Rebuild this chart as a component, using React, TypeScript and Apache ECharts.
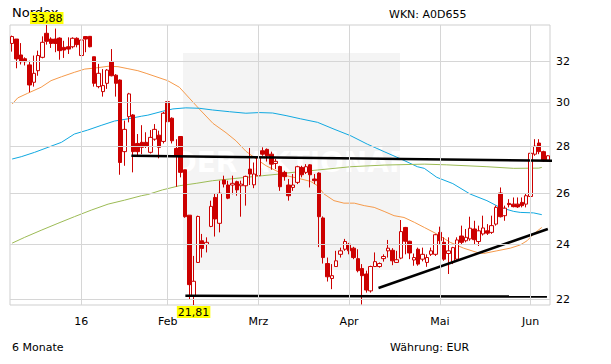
import React, { useEffect, useRef } from "react";
import * as echarts from "echarts";

const FONT = '"DejaVu Sans", Verdana, sans-serif';

// trading calendar (Xetra), 7 Dec 2015 – 7 Jun 2016
const startDate = "2015-12-07";
const endDate = "2016-06-07";
const holidays = ["2015-12-24", "2015-12-25", "2015-12-31", "2016-01-01", "2016-03-25", "2016-03-28", "2016-05-16"];
function buildDays(): string[] {
  const out: string[] = [];
  const d = new Date(startDate + "T12:00:00Z");
  const end = new Date(endDate + "T12:00:00Z");
  while (d <= end) {
    const s = d.toISOString().slice(0, 10);
    const wd = d.getUTCDay();
    if (wd !== 0 && wd !== 6 && !holidays.includes(s)) out.push(s);
    d.setUTCDate(d.getUTCDate() + 1);
  }
  return out;
}
const tradingDays = buildDays();

const monthLabels: Record<string, string> = {
  "2016-01": "16",
  "2016-02": "Feb",
  "2016-03": "Mrz",
  "2016-04": "Apr",
  "2016-05": "Mai",
  "2016-06": "Jun",
};

const yTicks = [22, 24, 26, 28, 30, 32];

// [open, close, low, high]
const candles: number[][] = [
  [32.91, 33.27, 32.49, 33.32], [33.14, 32.12, 31.65, 33.14], [32.32, 31.98, 31.84, 32.93], [32.13, 31.98, 31.79, 32.2],
  [31.82, 30.83, 30.48, 32.03], [30.96, 31.4, 30.75, 32.29], [31.53, 32.29, 31.28, 32.54], [32.2, 32.97, 32.15, 33.28],
  [33.44, 33.02, 32.85, 33.88], [33.14, 32.91, 32.68, 33.23], [33.14, 32.91, 32.46, 33.69], [33.19, 32.54, 32.08, 33.23],
  [32.71, 32.57, 32.17, 33.05], [32.74, 32.62, 32.37, 33.23], [32.74, 33.18, 32.66, 33.23], [33.18, 32.85, 32.71, 33.23],
  [32.29, 33.09, 31.48, 33.71], [33.27, 33.14, 32.46, 33.28], [33.28, 32.74, 32.71, 33.28], [32.23, 30.91, 30.75, 32.23],
  [30.75, 31.4, 30.67, 31.87], [30.51, 30.8, 30.27, 31.61], [30.91, 31.56, 30.64, 31.61], [31.98, 31.28, 31.25, 32.62],
  [31.31, 30.91, 30.27, 31.36], [31.07, 27.29, 26.77, 31.1], [27.76, 28.75, 27.15, 29.15], [29.33, 30.4, 29.07, 30.45],
  [29.41, 27.76, 26.87, 29.45], [28.12, 27.76, 27.58, 28.54], [28.17, 27.95, 27.65, 28.94], [28.17, 27.99, 27.92, 28.62],
  [27.73, 28.39, 27.68, 28.72], [28.31, 28.75, 28.24, 28.99], [28.49, 27.95, 27.47, 28.69], [28.21, 29.49, 28.12, 29.55],
  [30.03, 29.1, 29.02, 30.11], [29.26, 28.24, 28.12, 29.3], [27.9, 27.58, 26.27, 28.31], [28.43, 26.87, 26.66, 28.45],
  [26.98, 25.06, 25.02, 26.98], [25.12, 22.52, 22.01, 25.12], [22.13, 22.64, 21.81, 23.56], [23.32, 25.07, 23.3, 25.1],
  [24.13, 23.84, 23.5, 24.39], [23.99, 24.07, 23.69, 24.26], [24.68, 25.47, 24.65, 25.7], [25.83, 24.97, 24.29, 26.0],
  [24.8, 26.0, 24.45, 26.52], [26.55, 26.38, 26.24, 26.73], [26.34, 25.8, 25.76, 26.52], [26.34, 26.41, 25.96, 26.73],
  [26.48, 26.14, 25.9, 26.52], [26.31, 26.38, 25.06, 26.52], [26.31, 26.7, 25.5, 26.73], [27.01, 26.8, 26.34, 27.92],
  [26.35, 26.8, 26.21, 27.29], [26.73, 27.51, 26.7, 27.9], [27.8, 27.65, 27.58, 27.95], [27.86, 27.58, 27.33, 27.9],
  [27.65, 27.22, 26.98, 27.76], [27.25, 27.34, 27.01, 27.44], [27.12, 26.27, 26.1, 27.15], [26.87, 26.69, 26.52, 26.94],
  [26.34, 25.9, 25.7, 26.59], [26.24, 26.34, 26.1, 26.8], [26.45, 27.11, 26.38, 27.15], [27.08, 26.77, 26.66, 27.15],
  [26.87, 27.11, 26.8, 27.22], [27.19, 26.77, 26.24, 27.22], [26.59, 26.52, 26.38, 26.8], [26.84, 25.06, 23.89, 26.87],
  [25.01, 23.5, 23.28, 25.07], [23.28, 22.8, 22.63, 23.5], [22.74, 22.84, 22.36, 23.26], [23.17, 23.38, 23.16, 23.75],
  [23.62, 23.75, 23.5, 23.87], [23.81, 24.1, 23.75, 24.2], [24.0, 23.75, 23.62, 24.05], [23.85, 23.5, 23.44, 23.9],
  [23.46, 23.02, 22.96, 23.81], [23.1, 22.84, 21.83, 23.26], [22.9, 22.33, 22.24, 23.02], [22.3, 23.17, 22.24, 23.2],
  [23.17, 23.35, 23.16, 23.69], [23.17, 23.28, 23.13, 23.32], [23.46, 23.54, 23.35, 23.62], [23.75, 23.85, 23.5, 24.16],
  [23.77, 23.38, 23.22, 23.85], [23.32, 23.42, 23.3, 23.75], [23.48, 24.48, 23.44, 24.93], [24.64, 24.11, 23.62, 24.66],
  [24.11, 23.67, 23.44, 24.13], [23.41, 23.5, 23.2, 23.65], [23.81, 23.26, 23.2, 23.87], [23.44, 23.62, 23.36, 23.87],
  [23.32, 23.5, 23.16, 23.62], [23.62, 23.75, 23.56, 23.87], [23.62, 24.36, 23.56, 24.39], [24.45, 24.13, 24.0, 24.67],
  [24.07, 23.44, 23.38, 24.26], [23.65, 23.75, 22.9, 24.26], [23.35, 23.87, 23.26, 23.9], [23.44, 24.16, 23.4, 24.26],
  [24.31, 24.07, 24.0, 24.71], [24.13, 24.26, 24.07, 24.58], [24.2, 24.61, 24.13, 25.06], [24.58, 24.17, 24.0, 24.9],
  [24.1, 24.51, 23.93, 24.71], [24.39, 24.62, 24.33, 25.1], [24.51, 24.42, 24.35, 24.77], [24.45, 24.71, 24.39, 25.1],
  [24.77, 25.43, 24.71, 25.5], [26.01, 25.06, 25.03, 26.24], [25.1, 25.4, 24.9, 25.5], [25.59, 25.54, 25.43, 25.76],
  [25.56, 25.46, 25.43, 25.83], [25.56, 25.45, 25.41, 25.83], [25.63, 25.5, 25.43, 25.83], [25.56, 25.9, 25.43, 25.97],
  [25.87, 27.69, 25.83, 27.73], [27.65, 28.0, 27.58, 28.31], [28.14, 27.76, 27.65, 28.31], [27.76, 27.36, 27.32, 27.8],
  [27.39, 27.58, 27.33, 27.61],
];

// moving averages: [trading-day index, value]
const maOrange: number[][] = [
  [0, 29.92], [1.3, 30.21], [3.6, 30.43], [6.7, 30.72], [9.0, 31.04], [11.4, 31.23], [14.4, 31.45], [16.8, 31.61],
  [19.1, 31.66], [22.2, 31.75], [24.5, 31.73], [26.8, 31.63], [29.1, 31.53], [31.0, 31.4], [36.0, 31.04], [38.7, 30.72],
  [41.0, 30.2], [43.3, 29.69], [46.5, 29.02], [49.5, 28.6], [51.8, 28.24], [54.1, 27.78], [56.5, 27.44], [58.8, 27.15],
  [61.1, 26.94], [63.4, 26.73], [66.0, 26.63], [69.1, 26.49], [70.7, 26.31], [72.2, 25.97], [74.5, 25.7], [76.8, 25.6],
  [79.2, 25.6], [81.5, 25.5], [83.8, 25.43], [86.1, 25.27], [88.4, 25.1], [90.7, 25.03], [93.1, 24.84], [95.4, 24.64],
  [98.3, 24.39], [101.4, 24.07], [104.5, 23.85], [107.6, 23.69], [109.1, 23.65], [112.2, 23.75], [115.3, 23.85],
  [117.6, 23.97], [119.2, 24.13], [120.7, 24.39], [122.6, 24.64],
];
const maBlue: number[][] = [
  [0, 27.44], [2.1, 27.54], [5.2, 27.73], [8.3, 27.95], [11.4, 28.17], [14.4, 28.54], [17.5, 28.72], [20.6, 28.93],
  [23.7, 29.13], [26.8, 29.23], [29.9, 29.35], [31.4, 29.4], [34.8, 29.58], [37.2, 29.69], [40.2, 29.74], [43.3, 29.72],
  [46.4, 29.64], [50.3, 29.56], [54.1, 29.49], [57.2, 29.52], [60.3, 29.5], [63.4, 29.38], [66.8, 29.23], [70.7, 29.07],
  [74.5, 28.76], [78.4, 28.46], [82.2, 28.09], [86.1, 27.76], [90.0, 27.44], [93.8, 27.11], [95.4, 27.04], [98.3, 26.66],
  [102.0, 26.4], [106.0, 25.97], [109.9, 25.7], [112.9, 25.43], [116.1, 25.27], [117.6, 25.23], [120.7, 25.21],
  [122.6, 25.14],
];
const maGreen: number[][] = [
  [0, 24.04], [2.9, 24.26], [6.7, 24.53], [10.6, 24.8], [14.4, 25.06], [18.3, 25.32], [22.2, 25.56], [26.0, 25.72],
  [29.9, 25.9], [31.4, 25.95], [34.8, 26.14], [38.7, 26.31], [42.6, 26.41], [46.4, 26.52], [50.3, 26.59], [54.1, 26.66],
  [58.0, 26.73], [61.9, 26.8], [63.4, 26.84], [70.7, 26.97], [78.4, 27.11], [86.1, 27.18], [95.4, 27.22], [100.6, 27.19],
  [109.9, 27.11], [116.1, 27.04], [121.9, 27.05], [122.6, 27.08],
];

// drawn trend lines: [trading-day index, value]
const resistanceLine: number[][] = [[27.6, 27.58], [125.7, 27.36]];
const supportLine: number[][] = [[40.1, 22.13], [123.8, 22.1]];
const risingLine: number[][] = [[84.8, 22.4], [124.0, 24.58]];

const fmt = (v: number) => v.toFixed(2).replace(".", ",");

export default function App() {
  const ref = useRef<HTMLDivElement>(null);
  useEffect(() => {
    if (!ref.current) return;
    const chart = echarts.init(ref.current, undefined, { renderer: "svg" });

    const labelIdx = new Map<number, string>();
    tradingDays.forEach((d, i) => {
      const key = d.slice(0, 7);
      if (monthLabels[key] && !Array.from(labelIdx.values()).includes(monthLabels[key])) {
        labelIdx.set(i, monthLabels[key]);
      }
    });
    const monthIdx = Array.from(labelIdx.keys());

    let hiIdx = 0, loIdx = 0;
    candles.forEach((c, i) => {
      if (c[3] > candles[hiIdx][3]) hiIdx = i;
      if (c[2] < candles[loIdx][2]) loIdx = i;
    });
    const hiVal = candles[hiIdx][3];
    const loVal = candles[loIdx][2];
    const n = tradingDays.length;

    const markLabel = {
      show: true,
      backgroundColor: "#ffff00",
      color: "#000",
      fontSize: 11,
      fontFamily: FONT,
      padding: [1, 1, 0, 1],
      distance: 1,
    };

    chart.setOption({
      animation: false,
      backgroundColor: "#ffffff",
      grid: { left: 10, right: 61, top: 25, bottom: 59, show: true, borderColor: "#cfcfcf", borderWidth: 1 },
      xAxis: [
        {
          type: "category",
          data: tradingDays,
          boundaryGap: true,
          axisLine: { show: false },
          axisTick: { show: false },
          splitLine: { show: false },
          axisLabel: {
            interval: (i: number) => labelIdx.has(i),
            formatter: (_v: string, i: number) => labelIdx.get(i) || "",
            color: "#000",
            fontSize: 11,
            fontFamily: FONT,
            margin: 11,
          },
        },
        { type: "value", min: -0.5, max: n - 0.5, show: false },
      ],
      yAxis: {
        type: "log",
        logBase: 10,
        min: loVal,
        max: hiVal,
        position: "right",
        axisLine: { show: false },
        axisTick: { show: false },
        axisLabel: { show: false },
        splitLine: { show: false },
      },
      graphic: [
        { type: "rect", z: 0, shape: { x: 183, y: 53, width: 217, height: 217 }, style: { fill: "#f4f4f4" }, silent: true },
        {
          type: "text", z: 0, x: 292, y: 162, silent: true,
          style: { text: "DER AKTIONÄR", fill: "#ffffff", font: 'bold 28px "DejaVu Sans"', textAlign: "center", textVerticalAlign: "middle", align: "center", verticalAlign: "middle" },
        },
        { type: "text", z: 0, x: 12, y: 12, style: { text: "Nordex", fill: "#000", font: '13px "DejaVu Sans"', textVerticalAlign: "middle", verticalAlign: "middle" } },
        { type: "text", z: 0, x: 389, y: 14, style: { text: "WKN: A0D655", fill: "#000", font: '11px "DejaVu Sans"', textVerticalAlign: "middle", verticalAlign: "middle" } },
        { type: "text", z: 0, x: 12, y: 347, style: { text: "6 Monate", fill: "#000", font: '11px "DejaVu Sans"', textVerticalAlign: "middle", verticalAlign: "middle" } },
        { type: "text", z: 0, x: 390, y: 347, style: { text: "Währung: EUR", fill: "#000", font: '11px "DejaVu Sans"', textVerticalAlign: "middle", verticalAlign: "middle" } },
      ],
      series: [
        {
          type: "line",
          xAxisIndex: 0,
          yAxisIndex: 0,
          data: [],
          z: 1,
          silent: true,
          markLine: {
            silent: true,
            symbol: ["none", "none"],
            lineStyle: { color: "#d6d6d6", width: 1, type: "solid" },
            label: { show: false },
            data: [
              ...yTicks.map((v) => ({
                yAxis: v,
                label: { show: true, position: "end", formatter: String(v), color: "#000", fontSize: 11, fontFamily: FONT, distance: 6 },
              })),
              ...monthIdx.map((i) => ({ xAxis: tradingDays[i] })),
            ],
          },
        },
        { type: "line", xAxisIndex: 1, data: maOrange, symbol: "none", z: 2, lineStyle: { color: "#f59a4b", width: 1 } },
        { type: "line", xAxisIndex: 1, data: maBlue, symbol: "none", z: 2, lineStyle: { color: "#10a8e0", width: 1 } },
        { type: "line", xAxisIndex: 1, data: maGreen, symbol: "none", z: 2, lineStyle: { color: "#9cbb55", width: 1 } },
        {
          type: "candlestick",
          xAxisIndex: 0,
          yAxisIndex: 0,
          data: candles,
          barWidth: 4,
          z: 3,
          itemStyle: { color: "#ffffff", color0: "#cc0000", borderColor: "#cc0000", borderColor0: "#cc0000", borderWidth: 1 },
          markPoint: {
            silent: true,
            symbol: "rect",
            symbolSize: 0,
            label: markLabel,
            data: [
              { coord: [tradingDays[hiIdx], hiVal], value: hiVal, label: { ...markLabel, position: "top", formatter: fmt(hiVal) } },
              { coord: [tradingDays[loIdx], loVal], value: loVal, label: { ...markLabel, position: "bottom", formatter: fmt(loVal) } },
            ],
          },
        },
        { type: "line", xAxisIndex: 1, data: resistanceLine, symbol: "none", z: 4, clip: false, lineStyle: { color: "#000", width: 2.5 } },
        { type: "line", xAxisIndex: 1, data: supportLine, symbol: "none", z: 4, clip: false, lineStyle: { color: "#000", width: 2.5 } },
        { type: "line", xAxisIndex: 1, data: risingLine, symbol: "none", z: 4, clip: false, lineStyle: { color: "#000", width: 2.5 } },
      ],
    });
    return () => chart.dispose();
  }, []);
  return <div ref={ref} style={{ position: "fixed", left: 0, top: 0, width: 611, height: 364, background: "#fff" }} />;
}
